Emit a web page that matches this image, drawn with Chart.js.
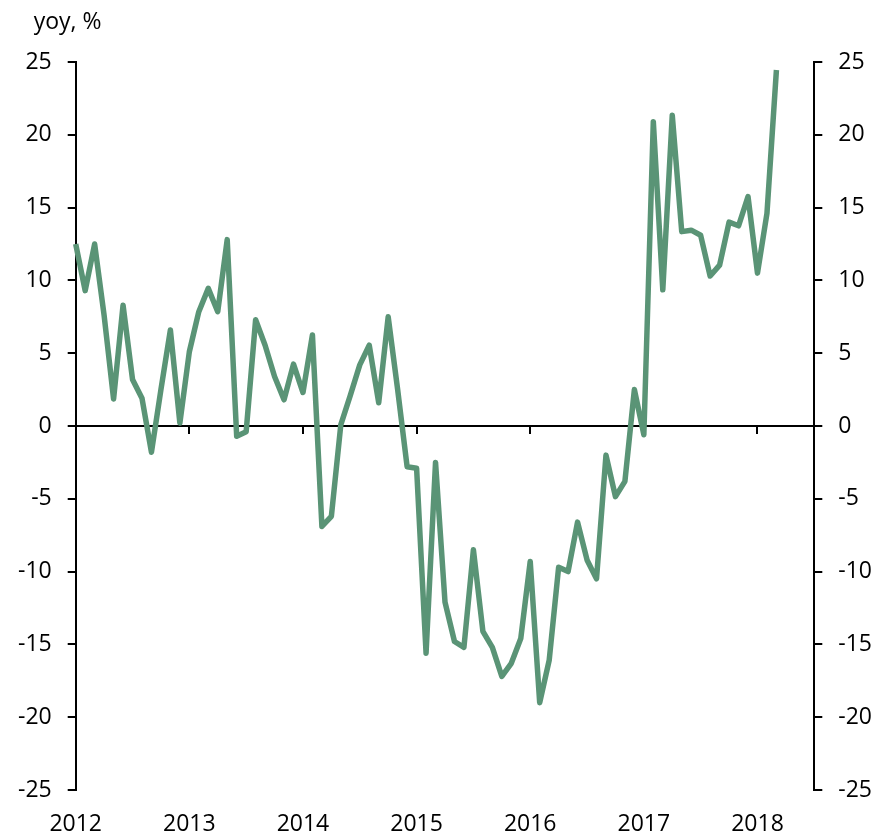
<!DOCTYPE html>
<html>
<head>
<meta charset="utf-8">
<script src="https://cdn.jsdelivr.net/npm/chart.js@4.4.1/dist/chart.umd.min.js"></script>
<style>
  html, body { margin: 0; padding: 0; background: #fff; }
  #wrap { width: 890px; height: 837px; }
</style>
</head>
<body>
<div id="wrap"><canvas id="yoyChart"></canvas></div>
<script>
// axis covers Jan 2012 .. Jul 2018, data runs to Mar 2018
const years = [2012, 2013, 2014, 2015, 2016, 2017, 2018];
const lastYearMonths = 7;

// yoy, % by year (monthly)
const v2012 = [12.5, 9.3, 12.5, 7.6, 1.85, 8.3, 3.2, 1.9, -1.8, 2.5, 6.6, 0.2];
const v2013 = [5.1, 7.85, 9.45, 7.85, 12.8, -0.7, -0.4, 7.3, 5.55, 3.4, 1.8, 4.25];
const v2014 = [2.3, 6.25, -6.9, -6.2, 0.1, 2.1, 4.2, 5.55, 1.6, 7.5, 2.5, -2.8];
const v2015 = [-2.9, -15.6, -2.5, -12.1, -14.8, -15.2, -8.5, -14.1, -15.2, -17.2, -16.3, -14.6];
const v2016 = [-9.3, -19.0, -16.1, -9.7, -10.0, -6.6, -9.2, -10.5, -2.0, -4.85, -3.8, 2.5];
const v2017 = [-0.6, 20.9, 9.35, 21.35, 13.35, 13.45, 13.1, 10.3, 11.05, 14.0, 13.75, 15.75];
const v2018 = [10.5, 14.6, 24.45];

const yTicks = [-25, -20, -15, -10, -5, 0, 5, 10, 15, 20, 25];

const values = [].concat(v2012, v2013, v2014, v2015, v2016, v2017, v2018);

const months = [];
years.forEach((yr, i) => {
    const n = i === years.length - 1 ? lastYearMonths : 12;
    for (let m = 1; m <= n; m++) months.push(yr + "-" + String(m).padStart(2, "0"));
});

const FONT = { family: "'Open Sans', sans-serif", size: 23 };
const GREEN = "#5a9476";

// "yoy, %" caption above the left axis
const captionPlugin = {
    id: "caption",
    afterDraw(chart) {
        const c = chart.ctx;
        c.save();
        c.font = FONT.size + "px " + FONT.family;
        c.fillStyle = "#000";
        c.textBaseline = "middle";
        c.textAlign = "left";
        c.fillText("yoy, %", chart.chartArea.left - 42, 22);
        c.restore();
    }
};

const yAxis = (pos) => ({
    position: pos,
    min: yTicks[0],
    max: yTicks[yTicks.length - 1],
    border: { display: true, color: "#000", width: 2 },
    grid: { drawOnChartArea: false, drawTicks: true, tickLength: 8, color: "#000", lineWidth: 2 },
    ticks: { stepSize: 5, padding: 16, color: "#000", font: FONT }
});

new Chart(document.getElementById("yoyChart").getContext("2d"), {
    type: "line",
    data: {
        labels: months,
        datasets: [{
            label: "yoy, %",
            data: values,
            xAxisID: "x",
            yAxisID: "y",
            borderColor: GREEN,
            borderWidth: 5.5,
            borderJoinStyle: "round",
            pointRadius: 0,
            tension: 0,
            fill: false
        }]
    },
    options: {
        responsive: true,
        maintainAspectRatio: false,
        animation: false,
        layout: { padding: { top: 62, left: 2, right: 2, bottom: 0 } },
        plugins: { legend: { display: false }, tooltip: { enabled: false } },
        scales: {
            // zero line with year ticks
            x: {
                type: "category",
                position: { y: 0 },
                offset: false,
                border: { display: true, color: "#000", width: 2 },
                grid: {
                    drawOnChartArea: false,
                    drawTicks: true,
                    tickLength: 7,
                    lineWidth: 2,
                    color: (ctx) => (ctx.index > 0 && ctx.index % 12 === 0) ? "#000" : "rgba(0,0,0,0)"
                },
                ticks: { display: false, autoSkip: false },
                afterFit: (s) => { s.height = 0; }
            },
            // year labels along the bottom
            x2: {
                type: "category",
                position: "bottom",
                offset: false,
                border: { display: false },
                grid: { display: false },
                ticks: {
                    autoSkip: false,
                    maxRotation: 0,
                    padding: 13,
                    color: "#000",
                    font: FONT,
                    callback: (val, i) => i % 12 === 0 ? months[i].slice(0, 4) : ""
                },
                afterFit: (s) => { s.height = 47; }
            },
            y: yAxis("left"),
            y2: yAxis("right")
        }
    },
    plugins: [captionPlugin]
});
</script>
</body>
</html>
